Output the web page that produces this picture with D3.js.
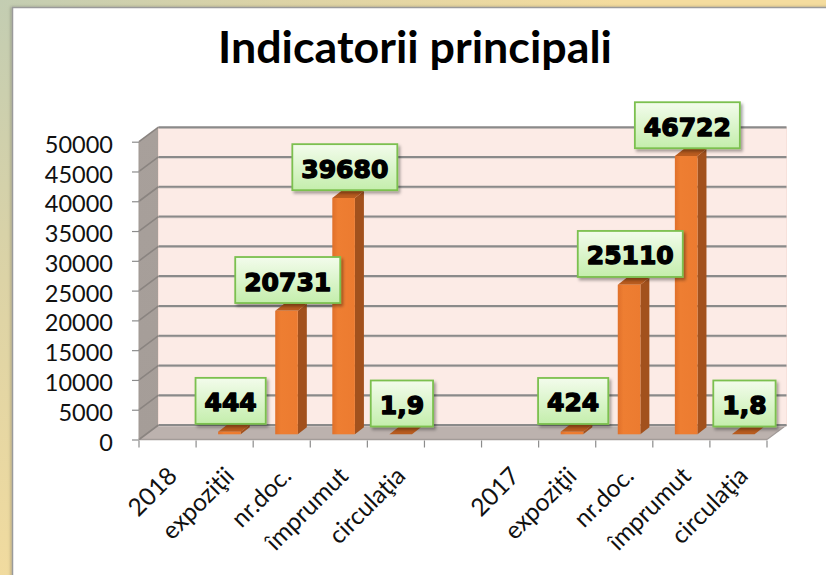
<!DOCTYPE html>
<html>
<head>
<meta charset="utf-8">
<script src="https://cdn.jsdelivr.net/npm/d3@7"></script>
<style>
  html, body { margin: 0; padding: 0; background: #fff; }
  svg { display: block; }
</style>
</head>
<body>
<svg id="chart" width="826" height="575"></svg>
<script>
// Category axis: two groups (2018, 2017) separated by an empty slot
const categories = ["2018", "expoziţii", "nr.doc.", "împrumut", "circulaţia", "",
                    "2017", "expoziţii", "nr.doc.", "împrumut", "circulaţia"];
// Column values per category (null = no column)
const values = [null, 444, 20731, 39680, 1.9, null,
                null, 424, 25110, 46722, 1.8];
// Value axis ticks
const yTicks = [0, 5000, 10000, 15000, 20000, 25000, 30000, 35000, 40000, 45000, 50000];
const chartTitle = "Indicatorii principali";

const W = 826, H = 575;
const svg = d3.select("#chart");
const defs = svg.append("defs");

// ---- gradients & filters ----
const bg = defs.append("radialGradient").attr("id", "bgGrad")
  .attr("gradientUnits", "userSpaceOnUse").attr("cx", 0).attr("cy", 0).attr("r", 620);
bg.append("stop").attr("offset", 0).attr("stop-color", "#c3cdb2");
bg.append("stop").attr("offset", 0.45).attr("stop-color", "#dcd3a6");
bg.append("stop").attr("offset", 1).attr("stop-color", "#f4dc9e");

const boxGrad = defs.append("linearGradient").attr("id", "boxGrad")
  .attr("x1", 0).attr("y1", 0).attr("x2", 0).attr("y2", 1);
boxGrad.append("stop").attr("offset", 0).attr("stop-color", "#f3fcec");
boxGrad.append("stop").attr("offset", 1).attr("stop-color", "#c4eeac");

const frontGrad = defs.append("linearGradient").attr("id", "frontGrad")
  .attr("x1", 0).attr("y1", 0).attr("x2", 1).attr("y2", 0);
frontGrad.append("stop").attr("offset", 0).attr("stop-color", "#e0702a");
frontGrad.append("stop").attr("offset", 0.25).attr("stop-color", "#ee7e32");
frontGrad.append("stop").attr("offset", 1).attr("stop-color", "#ec7b30");

const sideGrad = defs.append("linearGradient").attr("id", "sideWall")
  .attr("x1", 0).attr("y1", 0).attr("x2", 0).attr("y2", 1);
sideGrad.append("stop").attr("offset", 0).attr("stop-color", "#a8a09b");
sideGrad.append("stop").attr("offset", 1).attr("stop-color", "#a59d98");

const shadow = defs.append("filter").attr("id", "boxShadow")
  .attr("x", "-20%").attr("y", "-20%").attr("width", "150%").attr("height", "150%");
shadow.append("feDropShadow").attr("dx", 2).attr("dy", 2.5).attr("stdDeviation", 1.8)
  .attr("flood-color", "#000").attr("flood-opacity", 0.35);

const panelShadow = defs.append("filter").attr("id", "panelShadow")
  .attr("x", "-5%").attr("y", "-5%").attr("width", "110%").attr("height", "110%");
panelShadow.append("feDropShadow").attr("dx", -1).attr("dy", 0).attr("stdDeviation", 1.5)
  .attr("flood-color", "#000").attr("flood-opacity", 0.25);

// ---- background & panel ----
svg.append("rect").attr("width", W).attr("height", H).attr("fill", "url(#bgGrad)");
svg.append("rect").attr("x", 12.5).attr("y", 7.5).attr("width", W).attr("height", H)
  .attr("fill", "#fff").attr("stroke", "#9a9a9a").attr("stroke-width", 1.5)
  .attr("filter", "url(#panelShadow)");

// ---- title ----
svg.append("text")
  .attr("x", 415).attr("y", 63)
  .attr("text-anchor", "middle")
  .attr("font-family", "Lato, 'Open Sans', sans-serif")
  .attr("font-weight", "bold")
  .attr("font-size", 44)
  .attr("textLength", 394).attr("lengthAdjust", "spacingAndGlyphs")
  .attr("fill", "#000")
  .text(chartTitle);

// ---- scales ----
const x0 = 139, x1 = 767;           // front edge of the floor
const depthX = 19.5, depthY = -14.5; // full depth offset of the 3D box
const x = d3.scaleBand().domain(d3.range(categories.length)).range([x0, x1]);
const y = d3.scaleLinear().domain([0, 50000]).range([439.5, 141.7]);

const backX0 = x0 + depthX, backX1 = x1 + depthX;

// side wall
svg.append("polygon")
  .attr("points", [[x0, y(0)], [backX0, y(0) + depthY], [backX0, y(50000) + depthY], [x0, y(50000)]].join(" "))
  .attr("fill", "url(#sideWall)");
// back wall
svg.append("rect")
  .attr("x", backX0).attr("y", y(50000) + depthY)
  .attr("width", backX1 - backX0).attr("height", y(0) - y(50000))
  .attr("fill", "#fcebe6").attr("stroke", "#f6dcd5").attr("stroke-width", 0.8);
// floor
svg.append("polygon")
  .attr("points", [[x0, y(0)], [x1, y(0)], [backX1, y(0) + depthY], [backX0, y(0) + depthY]].join(" "))
  .attr("fill", "#bcb2ae");
svg.append("line").attr("x1", x0).attr("x2", x1).attr("y1", y(0)).attr("y2", y(0))
  .attr("stroke", "#a39c99").attr("stroke-width", 1.5);
svg.append("line").attr("x1", x1).attr("x2", backX1).attr("y1", y(0)).attr("y2", y(0) + depthY)
  .attr("stroke", "#a39c99").attr("stroke-width", 1.2);

// gridlines on back wall and side wall
const grid = svg.append("g");
yTicks.forEach(t => {
  const yy = y(t) + depthY;
  grid.append("line").attr("x1", backX0).attr("x2", backX1).attr("y1", yy + 1.2).attr("y2", yy + 1.2)
    .attr("stroke", "#cfc6c2").attr("stroke-width", 1);
  grid.append("line").attr("x1", backX0).attr("x2", backX1).attr("y1", yy).attr("y2", yy)
    .attr("stroke", "#8a8a8a").attr("stroke-width", 2);
  grid.append("line").attr("x1", x0).attr("x2", backX0).attr("y1", y(t)).attr("y2", yy)
    .attr("stroke", "#8a8480").attr("stroke-width", 1.6);
});
// side wall front edge
svg.append("line").attr("x1", x0).attr("x2", x0).attr("y1", y(0)).attr("y2", y(50000))
  .attr("stroke", "#a09893").attr("stroke-width", 1);

// ---- value axis ----
const yAxis = d3.axisLeft(y).tickValues(yTicks).tickSize(7).tickPadding(19)
  .tickFormat(d3.format("d"));
const yg = svg.append("g").attr("transform", `translate(${x0},0)`).call(yAxis);
yg.select(".domain").remove();
yg.selectAll(".tick line").attr("stroke", "#8c8c8c").attr("stroke-width", 1.2);
yg.selectAll(".tick text")
  .attr("font-family", "Lato, 'Open Sans', sans-serif")
  .attr("font-size", 23.5).attr("fill", "#111")
  .attr("dy", "0.45em");

// ---- category axis ----
const xTickPos = d3.range(categories.length + 1).map(i => x0 + i * x.bandwidth());
svg.append("g").selectAll("line").data(xTickPos).join("line")
  .attr("x1", d => d).attr("x2", d => d)
  .attr("y1", y(0) + 1).attr("y2", y(0) + 8)
  .attr("stroke", "#8c8c8c").attr("stroke-width", 1.2);

svg.append("g").selectAll("text").data(categories).join("text")
  .attr("transform", (d, i) => `translate(${x(i) + x.bandwidth() / 2 + 11},${y(0) + 38}) rotate(-45)`)
  .attr("text-anchor", "end")
  .attr("font-family", "Lato, 'Open Sans', sans-serif")
  .attr("font-size", 24.5).attr("fill", "#111")
  .text(d => d);

// ---- 3D columns ----
const barOff = 0.386, barW = 0.396;      // position/width within band
const zFront = 5.2;                       // front plane lift from floor edge
const bdx = 9, bdy = -7;                  // column depth offset

const fmt = d3.formatLocale({ decimal: ",", thousands: "", grouping: [3] }).format("~g");

const data = values.map((v, i) => ({ i, v })).filter(d => d.v !== null);

const bars = svg.append("g").selectAll("g").data(data).join("g");
bars.each(function (d) {
  const g = d3.select(this);
  const bx = x(d.i) + barOff * x.bandwidth();
  const bw = barW * x.bandwidth();
  const yb = y(0) - zFront;
  const yt = y(d.v) - zFront;
  // side face
  g.append("polygon")
    .attr("points", [[bx + bw, yb], [bx + bw + bdx, yb + bdy], [bx + bw + bdx, yt + bdy], [bx + bw, yt]].join(" "))
    .attr("fill", "#a2511d");
  // top face
  g.append("polygon")
    .attr("points", [[bx, yt], [bx + bw, yt], [bx + bw + bdx, yt + bdy], [bx + bdx, yt + bdy]].join(" "))
    .attr("fill", "#b95c1f");
  // front face
  if (yb - yt > 0.5) {
    g.append("rect").attr("x", bx).attr("y", yt).attr("width", bw).attr("height", yb - yt)
      .attr("fill", "url(#frontGrad)");
  }
});

// ---- value labels ----
const labels = svg.append("g").selectAll("g").data(data).join("g");
labels.each(function (d) {
  const g = d3.select(this);
  const cx = x(d.i) + (barOff + barW / 2) * x.bandwidth() + 1.2;
  const boxBottom = y(d.v) - zFront - 7.8;
  const boxH = 46;
  const t = g.append("text")
    .attr("font-family", "'DejaVu Sans', sans-serif")
    .attr("font-weight", "bold")
    .attr("font-size", 25)
    .attr("text-anchor", "middle")
    .attr("fill", "#000").attr("stroke", "#000").attr("stroke-width", 1.4)
    .attr("stroke-linejoin", "round")
    .attr("x", cx).attr("y", boxBottom - boxH + 33.5)
    .text(fmt(d.v));
  const tw = t.node().getComputedTextLength();
  const bwid = tw + 18;
  g.insert("rect", "text")
    .attr("x", cx - bwid / 2).attr("y", boxBottom - boxH)
    .attr("width", bwid).attr("height", boxH)
    .attr("fill", "url(#boxGrad)")
    .attr("stroke", "#7cc04f").attr("stroke-width", 1.8)
    .attr("filter", "url(#boxShadow)");
});
</script>
</body>
</html>
